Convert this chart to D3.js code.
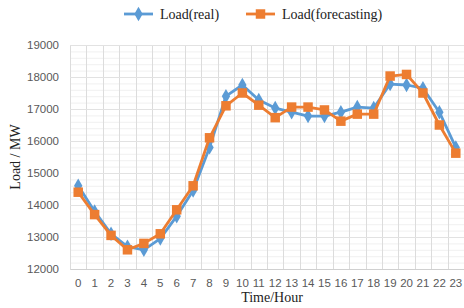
<!DOCTYPE html>
<html><head><meta charset="utf-8">
<script src="https://cdn.jsdelivr.net/npm/d3@7/dist/d3.min.js"></script>
<style>body{margin:0;background:#fff}svg{display:block}</style>
</head><body>
<svg id="c" width="464" height="308"></svg>
<script>
const hours = d3.range(24).map(String);
const loadReal = [14600,13800,13100,12700,12600,12950,13650,14450,15800,17400,17750,17280,17030,16900,16780,16780,16900,17060,17030,17780,17750,17650,16900,15800];
const loadForecast = [14400,13700,13050,12600,12800,13100,13850,14600,16100,17100,17500,17120,16730,17060,17060,16970,16620,16840,16840,18030,18080,17500,16500,15620];
const yTicks = [12000,13000,14000,15000,16000,17000,18000,19000];
const seriesNames = ["Load(real)","Load(forecasting)"];
const colors = ["#5B9BD5","#ED7D31"];

const svg = d3.select("#c");
const L = 70, R = 464, T = 45, B = 269;
const x = d3.scaleBand().domain(hours).range([L, R]);
const y = d3.scaleLinear().domain([12000,19000]).range([B, T]);

const g = svg.append("g");
g.selectAll("line.minor").data(d3.range(12000,19001,200)).join("line")
  .attr("x1",L).attr("x2",R).attr("y1",d=>y(d)+0.5).attr("y2",d=>y(d)+0.5)
  .attr("stroke","#f0f0f0").attr("stroke-width",1);
g.selectAll("line.v").data(hours.concat(["end"])).join("line")
  .attr("x1",(d,i)=>Math.round(L+i*x.bandwidth())+0.5)
  .attr("x2",(d,i)=>Math.round(L+i*x.bandwidth())+0.5)
  .attr("y1",T).attr("y2",B).attr("stroke","#dcdcdc").attr("stroke-width",1);
g.selectAll("line.major").data(yTicks).join("line")
  .attr("x1",L).attr("x2",R).attr("y1",d=>Math.round(y(d))+0.5).attr("y2",d=>Math.round(y(d))+0.5)
  .attr("stroke","#e2e2e2").attr("stroke-width",1);

const yAxis = d3.axisLeft(y).tickValues(yTicks).tickFormat(d3.format("d")).tickSize(0).tickPadding(11);
const ya = svg.append("g").attr("transform",`translate(${L},0)`).call(yAxis);
ya.select(".domain").remove();
ya.selectAll("text").attr("fill","#595959").style("font-family","'Liberation Sans', Arial, sans-serif").style("font-size","11.5px");

const xAxis = d3.axisBottom(x).tickSize(0).tickPadding(10);
const xa = svg.append("g").attr("transform",`translate(0,${B})`).call(xAxis);
xa.select(".domain").attr("stroke","#d0d0d0");
xa.selectAll("text").attr("fill","#595959").style("font-family","'Liberation Sans', Arial, sans-serif").style("font-size","11.5px");

svg.append("text").attr("x",272).attr("y",302).attr("text-anchor","middle")
  .style("font-family","'Liberation Serif','Times New Roman',serif").style("font-size","14px").attr("fill","#222").text("Time/Hour");
svg.append("text").attr("transform","translate(20,157) rotate(-90)").attr("text-anchor","middle")
  .style("font-family","'Liberation Serif','Times New Roman',serif").style("font-size","14px").attr("fill","#222").text("Load / MW");

const data = [loadReal, loadForecast];
const line = d3.line().x((d,i)=>x(hours[i])+x.bandwidth()/2).y(d=>y(d));
const diamond = d3.symbol().type(d3.symbolDiamond).size(60);
const square = d3.symbol().type(d3.symbolSquare).size(90);
data.forEach((vals,si)=>{
  svg.append("path").datum(vals).attr("d",line).attr("fill","none")
    .attr("stroke",colors[si]).attr("stroke-width",2.8).attr("stroke-linejoin","round");
  svg.append("g").selectAll("path").data(vals).join("path")
    .attr("transform",(d,i)=>`translate(${x(hours[i])+x.bandwidth()/2},${y(d)})`)
    .attr("d", si===0 ? diamond : square).attr("fill",colors[si]);
});

const leg = svg.append("g");
const lx = [124, 246];
seriesNames.forEach((n,i)=>{
  leg.append("line").attr("x1",lx[i]).attr("x2",lx[i]+29).attr("y1",14).attr("y2",14)
    .attr("stroke",colors[i]).attr("stroke-width",2.8);
  leg.append("path").attr("transform",`translate(${lx[i]+14.5},14)`).attr("d", i===0?diamond:square).attr("fill",colors[i]);
  leg.append("text").attr("x",lx[i]+36).attr("y",19)
    .style("font-family","'Liberation Serif','Times New Roman',serif").style("font-size","14px").attr("fill","#222").text(n);
});
</script>
</body></html>
